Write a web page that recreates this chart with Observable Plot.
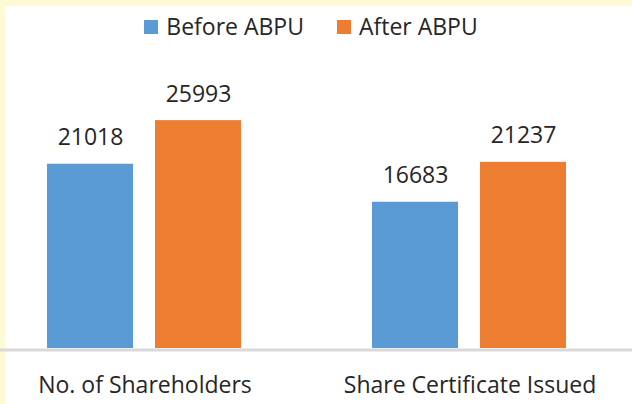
<!DOCTYPE html>
<html>
<head>
<meta charset="utf-8">
<script src="https://cdn.jsdelivr.net/npm/d3@7"></script>
<script src="https://cdn.jsdelivr.net/npm/@observablehq/plot@0.6"></script>
<style>
  html, body { margin: 0; padding: 0; width: 632px; height: 404px; overflow: hidden; background: #FFFAD6; }
  #card { position: absolute; left: 5px; top: 6px; width: 627px; height: 398px; background: #ffffff; }
  #legend { position: absolute; top: 5.4px; left: 0; right: 0; padding-right: 15px; display: flex; justify-content: center; align-items: center; font-family: 'Open Sans', sans-serif; font-size: 23px; color: #262626; line-height: 31.3px; }
  .item { display: flex; align-items: center; }
  .item + .item { margin-left: 33px; }
  .sw { width: 14px; height: 14px; margin-right: 8px; }
  #chart { position: absolute; left: 0; top: 44px; }
</style>
</head>
<body>
<div id="card">
  <div id="legend"></div>
  <div id="chart"></div>
</div>
<script>
const categories = ["No. of Shareholders", "Share Certificate Issued"];
const series = ["Before ABPU", "After ABPU"];
const beforeValues = [21018, 16683];
const afterValues = [25993, 21237];
const colors = ["#5B9BD5", "#ED7D31"];

const rows = categories.flatMap((c, i) => [
  {category: c, series: series[0], value: beforeValues[i]},
  {category: c, series: series[1], value: afterValues[i]}
]);

const legend = document.getElementById("legend");
series.forEach((s, i) => {
  const item = document.createElement("div");
  item.className = "item";
  const sw = document.createElement("span");
  sw.className = "sw";
  sw.style.background = colors[i];
  const label = document.createElement("span");
  label.textContent = s;
  item.appendChild(sw);
  item.appendChild(label);
  legend.appendChild(item);
});

const chart = Plot.plot({
  width: 627,
  height: 354,
  marginTop: 35,
  marginBottom: 56,
  marginLeft: 0,
  marginRight: 0,
  style: {fontFamily: "'Open Sans', sans-serif", fontSize: "23px", color: "#262626", background: "transparent", overflow: "visible"},
  fx: {domain: categories, range: [-23.4, 627.8], paddingInner: 0, paddingOuter: 0},
  x: {domain: series, paddingInner: 0.2, paddingOuter: 0.6, axis: null},
  y: {domain: [0, 30000], axis: null},
  color: {domain: series, range: colors},
  marks: [
    Plot.barY(rows, {fx: "category", x: "series", y: "value", fill: "series"}),
    Plot.text(rows, {fx: "category", x: "series", y: "value", text: d => String(d.value), lineAnchor: "bottom", dy: -19, fontSize: 23, fill: "#262626"}),
    Plot.ruleY([0], {stroke: "#d9d9d9", strokeWidth: 3, dy: 1.5}),
    Plot.axisFx({anchor: "bottom", tickSize: 0, tickPadding: 28, label: null, fontSize: 23, fill: "#262626"})
  ]
});
document.getElementById("chart").appendChild(chart);
</script>
</body>
</html>
